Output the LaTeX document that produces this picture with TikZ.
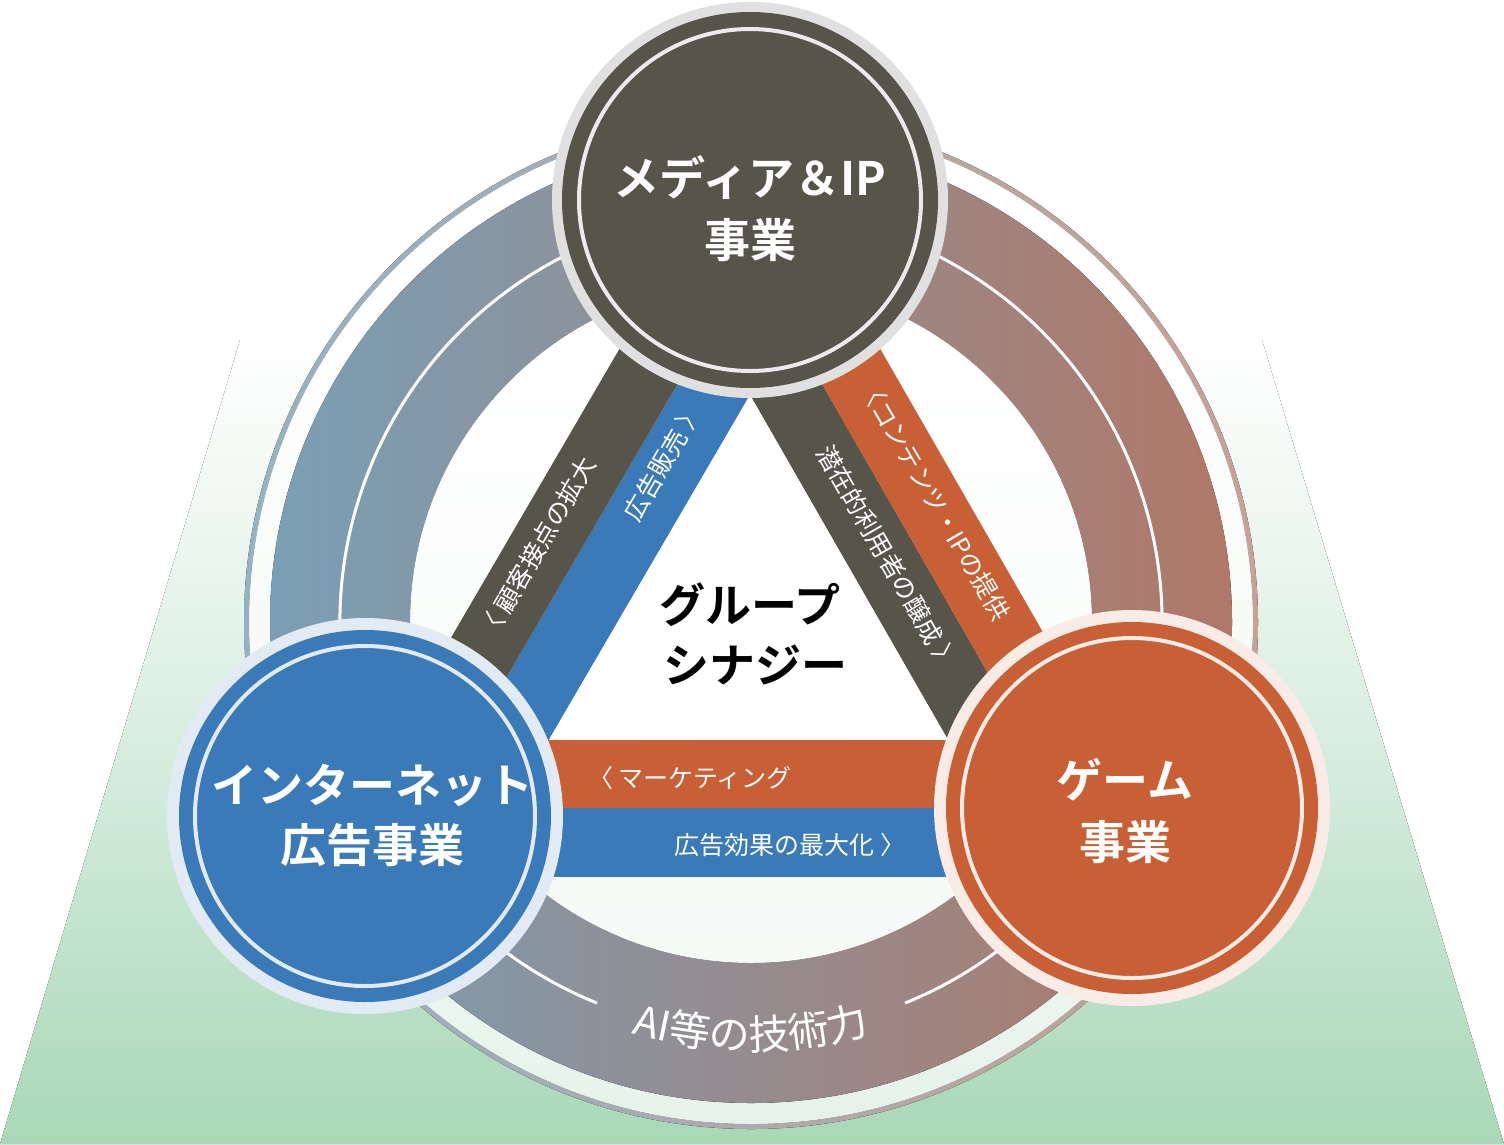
\documentclass[tikz,border=0pt]{standalone}
\usepackage{fontspec}
\newfontfamily\jp{Noto Sans CJK JP}
\newfontfamily\jpb{Noto Sans CJK JP Bold}
\usetikzlibrary{decorations.text}
\definecolor{dark}{HTML}{57544A}
\definecolor{blu}{HTML}{3B7AB8}
\definecolor{ora}{HTML}{C95F35}
\definecolor{rl}{HTML}{7A9FB5}
\definecolor{rr}{HTML}{B07868}
\definecolor{grn}{HTML}{A8D8B8}
\begin{document}
\begin{tikzpicture}[x=1pt,y=-1pt,
  big/.style={font=\jpb\fontsize{46}{56}\selectfont,text=white,align=center},
  lab/.style={font=\jp\fontsize{25}{28}\selectfont,text=white}]
\useasboundingbox (0,0) rectangle (1504,1144);
\fill[white] (0,0) rectangle (1504,1144);
% trapezoid
\fill[top color=white,bottom color=grn,middle color=grn!45!white] (240,340) -- (1262,340) -- (1504,1144) -- (0,1144) -- cycle;
\coordinate (c) at (751,622);
% outer ring
\fill[left color=rl!80!white,right color=rr!70!white,even odd rule] (c) circle (507) (c) circle (502);
\fill[white,opacity=.7] (c) circle (502);
\fill[left color=rl,right color=rr,even odd rule] (c) circle (481) (c) circle (341);
\fill[white,opacity=.55] (c) circle (341);
\draw[white,line width=3] (c) ++(112:411) arc[start angle=112,end angle=428,radius=411];
% strips left
\fill[blu] (825.6,265.4) -- (499.6,824.4) -- (440.8,790.1) -- (766.8,231.1) -- cycle;
\fill[dark] (766.8,231.1) -- (440.8,790.1) -- (382.1,755.9) -- (708.1,196.9) -- cycle;
% strips right
\fill[dark] (675.3,265) -- (997.8,826.7) -- (1056.8,792.8) -- (734.3,231.1) -- cycle;
\fill[ora] (734.3,231.1) -- (1056.8,792.8) -- (1115.7,759) -- (793.2,197.3) -- cycle;
% bottom strips
\fill[ora] (470,740) rectangle (1040,808);
\fill[blu] (470,808) rectangle (1040,877);
\fill[white] (750,395) -- (550,738) -- (948,740) -- cycle;
% circles
\node[circle,minimum size=396,fill=black!12] (top) at (750,200) {};
\fill[dark] (top) circle (188);
\draw[black!8,line width=4] (top) circle (171);
\node[circle,minimum size=396,fill=blu!15!white] (left) at (365,816) {};
\fill[blu] (left) circle (186);
\draw[blu!15!white,line width=4] (left) circle (170);
\node[circle,minimum size=396,fill=ora!12!white] (right) at (1132,808) {};
\fill[ora] (right) circle (186);
\draw[ora!12!white,line width=4] (right) circle (170);
% big texts
\node[big] at (750,178) {メディア＆IP};
\node[big] at (750,240) {事業};
\node[big] at (372,785) {インターネット};
\node[big] at (372,845) {広告事業};
\node[big] at (1125,780) {ゲーム};
\node[big] at (1125,842) {事業};
\node[big,text=black] at (750,605) {グループ};
\node[big,text=black] at (755,665) {シナジー};
% strip labels
\node[lab,rotate=60] at (537,548) {〈 顧客接点の拡大};
\node[lab,rotate=60] at (663,462) {広告販売 〉};
\node[lab,rotate=-60] at (935,500) {〈コンテンツ・IPの提供};
\node[lab,rotate=-60] at (888,558) {潜在的利用者の醸成 〉};
\node[lab] at (690,778) {〈 マーケティング};
\node[lab] at (790,845) {広告効果の最大化 〉};
% AI
\path[decorate,decoration={text align=center,text along path,text={|\jp\fontsize{41}{44}\selectfont\color{white}|AI等の技術力}}]
  (c) ++(113:428) arc[start angle=113,end angle=67,radius=428];
\end{tikzpicture}
\end{document}
